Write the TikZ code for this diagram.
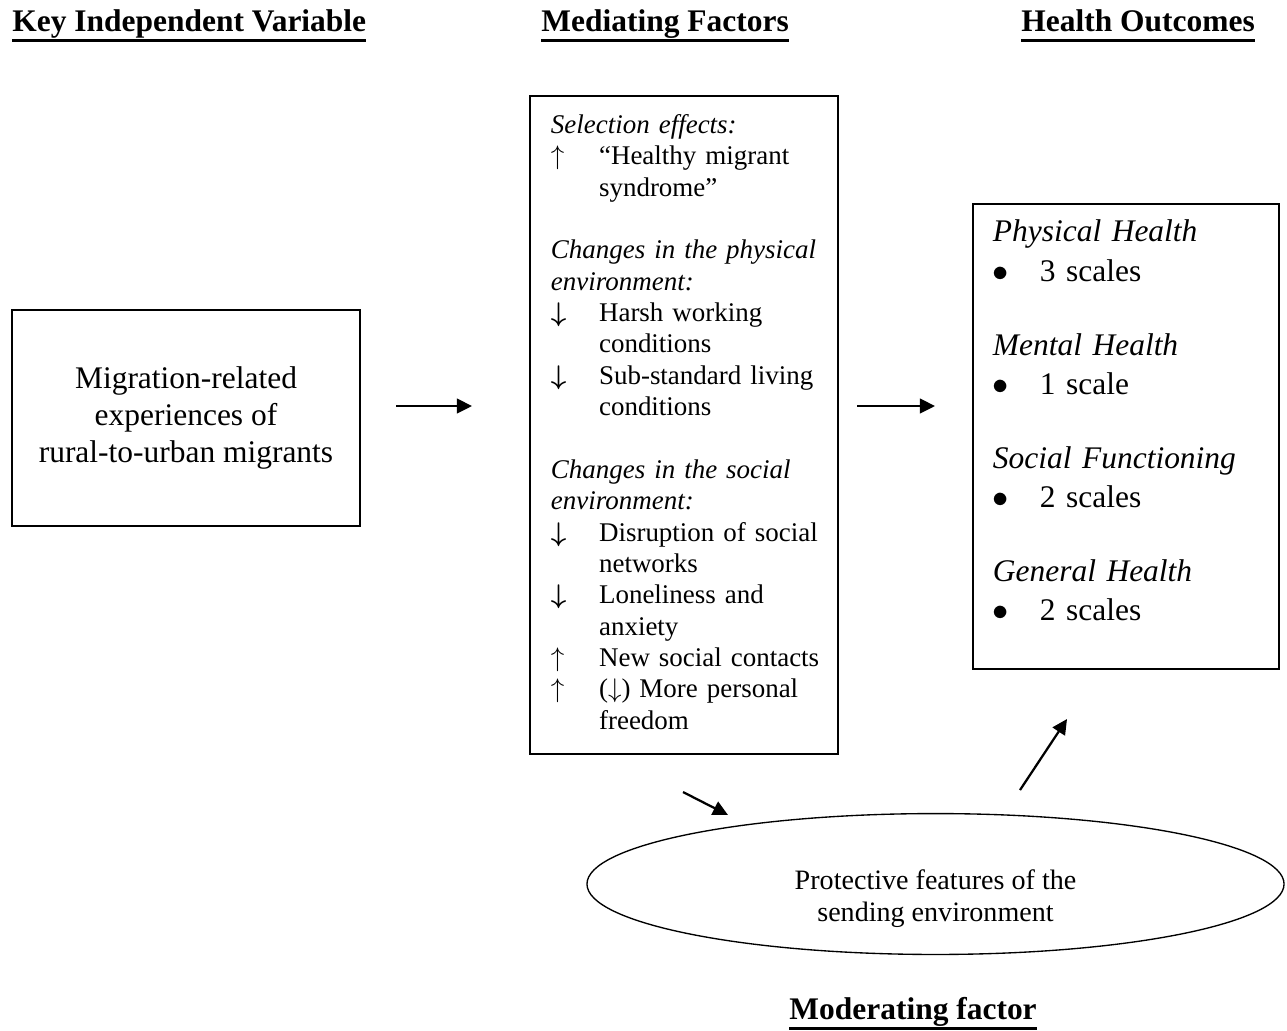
\documentclass[tikz,border=0pt]{standalone}
\usepackage{amsmath}
\usepackage{fontspec}
\setmainfont{Liberation Serif}
\usepackage{array}
\usetikzlibrary{arrows.meta}
\usetikzlibrary{shapes.geometric}
\newcommand{\arrup}{$\uparrow$}
\newcommand{\arrdn}{$\boldsymbol{\downarrow}$}
\newcommand{\subhead}[1]{\multicolumn{2}{@{}l@{}}{\itshape #1}}
\newcommand{\thickul}[1]{\setbox0\hbox{#1}\rlap{\rule[-4.9pt]{\wd0}{1.3pt}}\box0}

\begin{document}
\begin{tikzpicture}[x=0.445pt,y=-0.445pt,
  head/.style={inner sep=0,anchor=base west,font=\fontsize{14}{16.8}\selectfont\bfseries},
  box/.style={draw,line width=0.7pt,inner sep=0},
  flow/.style={line width=1pt,-{Triangle[length=6.7pt,width=6.5pt]}}]
\useasboundingbox (0,0) rectangle (1287,1030);
\node[head] (keyhead) at (12,31) {\thickul{Key Independent Variable}};
\node[head] (medhead) at (541,31) {\thickul{Mediating Factors}};
\node[head] (outhead) at (1021,31) {\thickul{Health Outcomes}};
\node[head] (modhead) at (789,1019) {\thickul{Moderating factor}};

\node[box,minimum width=154.9pt,minimum height=96.1pt,align=center,
  font=\fontsize{14}{16.6}\selectfont] (migr) at (186,418)
  {Migration-related\\experiences of\\rural-to-urban migrants};

\node[box,minimum height=292.8pt,text width=118.4pt,inner xsep=9.35pt,
  font=\fontsize{12}{13.96}\selectfont] (med) at (684,425) {%
\begin{tabular}{@{}p{21.4pt}@{}l@{}}
\subhead{Selection effects:}\\
\arrup & “Healthy migrant\\
 & syndrome”\\
 & \\
\subhead{Changes in the physical}\\
\subhead{environment:}\\
\arrdn & Harsh working\\
 & conditions\\
\arrdn & Sub-standard living\\
 & conditions\\
 & \\
\subhead{Changes in the social}\\
\subhead{environment:}\\
\arrdn & Disruption of social\\
 & networks\\
\arrdn & Loneliness and\\
 & anxiety\\
\arrup & New social contacts\\
\arrup & ($\downarrow$) More personal\\
 & freedom
\end{tabular}};

\node[box,minimum height=206.9pt,text width=118.4pt,inner xsep=8.9pt,
  font=\fontsize{14}{17.4}\selectfont] (outc) at (1126,436.5) {%
\begin{tabular}{@{}p{20.9pt}@{}l@{}}
\subhead{Physical Health}\\
$\bullet$ & 3 scales\\[15.6pt]
\subhead{Mental Health}\\
$\bullet$ & 1 scale\\[15.6pt]
\subhead{Social Functioning}\\
$\bullet$ & 2 scales\\[15.6pt]
\subhead{General Health}\\
$\bullet$ & 2 scales\\[11.5pt]
\end{tabular}};

\node[draw,ellipse,line width=0.6pt,minimum width=310.2pt,minimum height=62.7pt,
  inner sep=0,font=\fontsize{12.5}{14.2}\selectfont] (prot) at (935.5,884)
  {\begin{tabular}{@{}c@{}}\\[-1pt]Protective features of the\\sending environment\end{tabular}};

\coordinate (a1s) at (396,406);
\coordinate (a1e) at (472,406);
\coordinate (a2s) at (857,406);
\coordinate (a2e) at (935,406);
\coordinate (a3s) at (683,792);
\coordinate (a3e) at (728,815);
\coordinate (a4s) at (1020,790);
\coordinate (a4e) at (1067,719);
\draw[flow] (a1s) -- (a1e);
\draw[flow] (a2s) -- (a2e);
\draw[flow] (a3s) -- (a3e);
\draw[flow] (a4s) -- (a4e);
\end{tikzpicture}
\end{document}
